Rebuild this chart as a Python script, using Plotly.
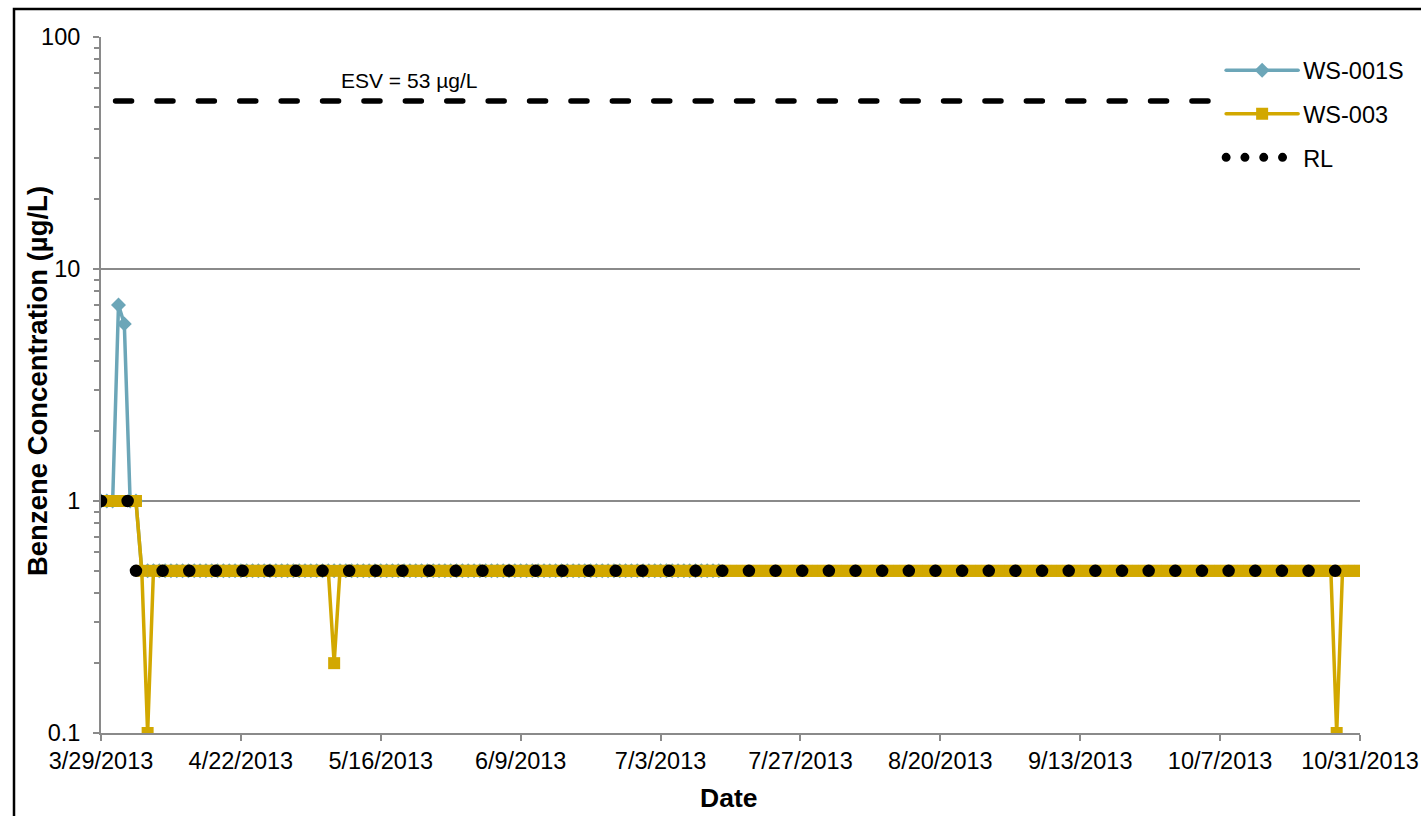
import pandas as pd
import plotly.graph_objects as go

# WS-001S: daily results from 3/29/2013, stored as (value, number of days) runs
ws001s_start = "2013-03-29"
ws001s_runs = [(1.0, 3), (7.0, 1), (5.8, 1), (1.0, 2), (0.5, 100)]

# WS-003: daily results from 3/30/2013
ws003_start = "2013-03-30"
ws003_runs = [(1.0, 6), (0.5, 1), (0.1, 1), (0.5, 31), (0.2, 1),
              (0.5, 171), (0.1, 1), (0.5, 4)]

# reporting limit (gap between the two levels)
rl_dates = ["2013-03-29", "2013-04-03", "2013-04-03 12:00", "2013-04-04", "2013-10-31"]
rl_values = [1.0, 1.0, None, 0.5, 0.5]

# ecological screening value
esv_dates = ["2013-03-31 12:00", "2013-10-05"]
esv_values = [53, 53]

y_ticks = [0.1, 1, 10, 100]
y_ticktext = ["0.1", "1", "10", "100"]
y_minor_ticks = [0.2, 0.3, 0.4, 0.5, 0.6, 0.7, 0.8, 0.9,
                 2, 3, 4, 5, 6, 7, 8, 9,
                 20, 30, 40, 50, 60, 70, 80, 90]

TEAL = "#6CA6B8"
GOLD = "#D2A800"
GREY = "#8A8A8A"
FONT = "Liberation Sans, Arial, sans-serif"


def expand(start, runs):
    n = sum(c for _, c in runs)
    dates = pd.date_range(start, periods=n, freq="D")
    vals = [v for v, c in runs for _ in range(c)]
    return dates, vals


ws001s_dates, ws001s_values = expand(ws001s_start, ws001s_runs)
ws003_dates, ws003_values = expand(ws003_start, ws003_runs)

fig = go.Figure()

fig.add_trace(go.Scatter(
    x=ws001s_dates, y=ws001s_values, name="WS-001S", mode="lines+markers",
    line=dict(color=TEAL, width=3.5),
    marker=dict(symbol="diamond", size=11.5, color=TEAL, line=dict(width=0)),
    legendgroup="a",
))
fig.add_trace(go.Scatter(
    x=ws003_dates, y=ws003_values, name="WS-003", mode="lines+markers",
    line=dict(color=GOLD, width=3.5),
    marker=dict(symbol="square", size=12, color=GOLD, line=dict(width=0)),
    legendgroup="b",
))
fig.add_trace(go.Scatter(
    x=rl_dates, y=rl_values, name="RL", mode="lines", connectgaps=False,
    line=dict(color="black", width=12.5, dash="0px,26.65px"),
    legendgroup="c",
))
fig.add_trace(go.Scatter(
    x=esv_dates, y=esv_values, name="ESV", mode="lines", showlegend=False,
    line=dict(color="black", width=5.5, dash="16px,25.4px"),
))

fig.add_annotation(
    x=0.2446, y=0.938, xref="paper", yref="paper", text="ESV = 53 µg/L",
    xanchor="center", yanchor="middle",
    showarrow=False, font=dict(size=21, color="black", family=FONT),
)
# axis titles
fig.add_annotation(
    x=0.4988, y=-0.0934, xref="paper", yref="paper", text="<b>Date</b>",
    xanchor="center", yanchor="middle",
    showarrow=False, font=dict(size=26.5, color="black", family=FONT),
)
fig.add_annotation(
    x=-0.0508, y=0.5057, xref="paper", yref="paper",
    text="<b>Benzene Concentration (µg/L)</b>", textangle=-90,
    xanchor="center", yanchor="middle",
    showarrow=False, font=dict(size=27.5, color="black", family=FONT),
)

# outer chart frame
fig.add_shape(type="rect", xref="paper", yref="paper",
              x0=-0.0691, y0=-0.3, x1=1.2, y1=1.0402,
              line=dict(color="black", width=2.5), layer="below")

fig.update_layout(
    width=1421, height=816,
    margin=dict(l=101, r=61, t=37, b=83, autoexpand=False),
    paper_bgcolor="white", plot_bgcolor="white",
    font=dict(family=FONT, size=23.5, color="black"),
    showlegend=True,
    legend=dict(
        x=0.8897, y=0.9835, xanchor="left", yanchor="top",
        bgcolor="rgba(0,0,0,0)", tracegroupgap=10, itemwidth=72,
        font=dict(size=23.5, family=FONT),
    ),
    xaxis=dict(
        type="date", range=["2013-03-29", "2013-10-31"], automargin=False,
        tick0="2013-03-29", dtick=24 * 86400000, tickformat="%-m/%-d/%Y",
        showline=True, linecolor=GREY, linewidth=2,
        ticks="outside", ticklen=6, tickcolor=GREY, tickwidth=2,
        showgrid=False, zeroline=False,
    ),
    yaxis=dict(
        type="log", range=[-1, 2], automargin=False,
        tickvals=y_ticks, ticktext=y_ticktext, ticklabelstandoff=8,
        showline=True, linecolor=GREY, linewidth=2,
        ticks="outside", ticklen=6, tickcolor=GREY, tickwidth=2,
        showgrid=True, gridcolor=GREY, gridwidth=1.5,
        minor=dict(ticks="outside", ticklen=5, tickcolor=GREY, tickwidth=1.5,
                   tickvals=y_minor_ticks, showgrid=False),
        zeroline=False,
    ),
)

post = """
document.body.style.margin = '0';
var gd = document.getElementById('{plot_id}');
gd.querySelectorAll('path.js-line').forEach(function(p){ p.style.strokeLinecap = 'round'; });
var items = gd.querySelectorAll('.legend .traces');
items.forEach(function(t){
  t.querySelectorAll('.legendlines path').forEach(function(p){ p.style.strokeLinecap = 'round'; });
});
if (items.length > 2) {
  items[2].querySelectorAll('.legendlines path').forEach(function(p){
    p.style.strokeWidth = '9px';
    p.style.strokeDasharray = '0px,18.8px';
  });
}
"""

fig.write_html("out.html", post_script=post, config={"displayModeBar": False})
